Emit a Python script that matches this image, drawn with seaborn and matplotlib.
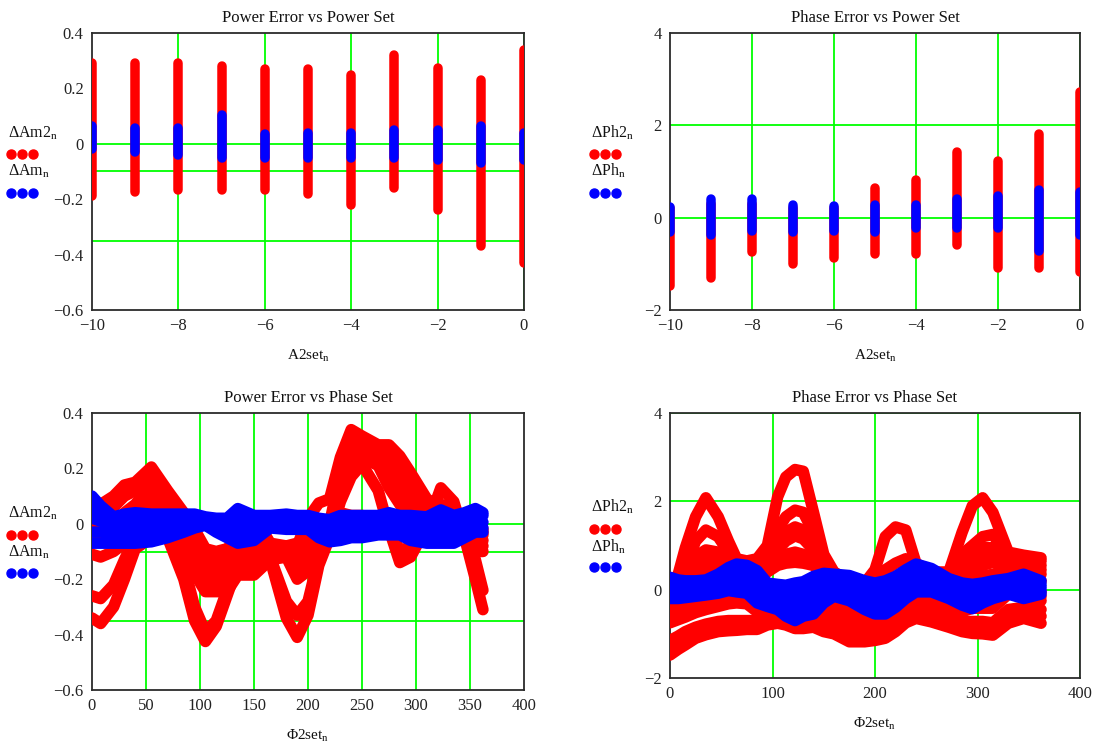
import matplotlib
matplotlib.use("Agg")
import matplotlib.pyplot as plt
from matplotlib.lines import Line2D
import pandas as pd
import seaborn as sns

# ---------- data: power-set columns ----------
power_levels = [-10, -9, -8, -7, -6, -5, -4, -3, -2, -1, 0]

am2_high = [.29, .29, .29, .28, .27, .27, .25, .32, .275, .23, .34]
am2_low = [-.19, -.175, -.165, -.165, -.165, -.18, -.22, -.16, -.24, -.37, -.43]
am_high = [.064, .057, .057, .105, .037, .04, .04, .05, .05, .065, .04]
am_low = [-.02, -.03, -.04, -.05, -.05, -.05, -.05, -.05, -.06, -.07, -.06]

ph2_high = [.2, .3, .3, .2, .2, .65, .82, 1.42, 1.22, 1.82, 2.72]
ph2_low = [-1.47, -1.31, -.75, -1.0, -.88, -.78, -.78, -.6, -1.09, -1.09, -1.18]
ph_high = [.23, .41, .41, .28, .26, .28, .28, .41, .48, .59, .55]
ph_low = [-.31, -.37, -.28, -.31, -.28, -.31, -.22, -.22, -.22, -.72, -.37]

# ---------- data: power error vs phase set ----------
phase_a = [0, 8, 20, 30, 40, 55, 70, 85, 95, 105, 115, 125, 135, 150, 165, 180, 190,
           200, 210, 220, 230, 240, 250, 265, 275, 285, 295, 310, 323, 335, 345, 355, 362]

am2_curves = {
    "A": [-.34, -.36, -.30, -.20, -.09, -.05, -.05, -.20, -.35, -.425, -.37, -.26, -.15, -.09, -.13, -.34, -.41,
          -.33, -.15, -.05, .08, .17, .215, .12, -.02, -.14, -.12, -.01, .13, .08, -.05, -.20, -.31],
    "B": [-.26, -.27, -.22, -.13, -.05, -.04, -.05, -.15, -.30, -.39, -.35, -.24, -.14, -.09, -.12, -.28, -.33,
          -.28, -.12, -.04, .09, .20, .24, .21, .13, .07, .03, .01, .07, .05, -.03, -.13, -.24],
    "H": [-.03, -.03, -.02, -.01, .0, .04, .0, -.03, -.05, -.12, -.13, -.12, -.07, -.07, -.08, -.08, -.07,
          -.05, -.02, .02, .04, .03, .03, .02, .0, -.10, -.08, .0, .07, .03, -.06, -.10, -.10],
    "C": [-.11, -.12, -.10, -.07, -.04, .07, .05, -.09, -.18, -.245, -.245, -.245, -.185, -.185, -.13, -.12, -.20,
          -.17, -.11, -.04, .09, .23, .26, .225, .16, .10, .06, .02, .05, .03, -.03, -.07, -.08],
    "D": [-.06, -.06, -.05, -.03, .01, .10, .08, -.07, -.14, -.21, -.22, -.21, -.16, -.16, -.10, -.10, -.16,
          -.14, -.09, -.03, .12, .26, .275, .24, .19, .14, .09, .03, .04, .02, -.02, -.05, -.06],
    "E": [-.03, -.02, .0, .04, .07, .14, .10, -.05, -.10, -.18, -.19, -.18, -.13, -.13, -.08, -.09, -.13,
          -.11, -.07, -.02, .15, .29, .29, .26, .22, .17, .12, .05, .03, .01, -.01, -.03, -.04],
    "F": [.0, .03, .06, .10, .12, .17, .11, -.04, -.07, -.15, -.16, -.15, -.10, -.10, -.08, -.08, -.10,
          -.08, -.05, .0, .19, .32, .305, .275, .25, .21, .15, .07, .02, .0, .0, -.02, -.03],
    "G": [.04, .07, .10, .14, .15, .205, .12, .04, -.02, -.09, -.10, -.09, -.05, .03, -.07, -.08, -.08,
          .02, .075, .09, .24, .34, .317, .285, .285, .245, .185, .09, .06, .03, .0, -.01, -.02],
}
am_curves = {
    "t": [.10, .065, .025, .035, .04, .035, .035, .035, .035, .025, .02, .02, .055, .03, .03, .035, .03,
          .03, .02, .015, .03, .03, .03, .03, .04, .03, .03, .025, .05, .03, .04, .055, .04],
    "u": [.06, .04, .015, .02, .02, .02, .02, .02, .02, .015, .01, .01, .02, .015, .015, .02, .015,
          .015, .01, .0, .01, .015, .015, .015, .02, .015, .015, .01, .02, .015, .02, .03, .03],
    "m": [.02, .01, -.01, -.01, -.01, -.01, -.005, .0, .0, .0, -.005, -.01, -.01, -.01, .0, .0, .0,
          .0, -.01, -.015, -.015, -.01, -.005, -.005, .0, -.005, -.01, -.015, -.015, -.015, -.01, .0, .005],
    "l": [-.03, -.03, -.035, -.04, -.04, -.035, -.03, -.015, -.01, -.005, -.02, -.03, -.04, -.03, -.01, -.005, -.005,
          -.005, -.03, -.04, -.04, -.03, -.025, -.02, -.02, -.02, -.03, -.04, -.04, -.04, -.03, -.02, -.015],
    "b": [-.07, -.07, -.07, -.07, -.07, -.065, -.05, -.03, -.015, -.005, -.03, -.05, -.07, -.06, -.015, -.02, -.02,
          -.02, -.05, -.065, -.06, -.05, -.05, -.04, -.04, -.04, -.06, -.07, -.07, -.07, -.05, -.03, -.03],
}

# ---------- data: phase error vs phase set ----------
phase_p = [0, 8, 15, 25, 35, 47, 57, 65, 75, 85, 95, 105, 113, 122, 130, 140, 150, 160, 175, 190, 200,
           210, 220, 230, 240, 255, 272, 285, 295, 305, 315, 330, 345, 362]

ph2_curves = {
    "R1": [.1, .35, .95, 1.65, 2.08, 1.65, 1.1, .7, .65, .7, 1.0, 2.1, 2.55, 2.72, 2.68, 1.75, .8, .4, .2, .15, .45,
           1.2, 1.42, 1.35, .6, .4, .4, 1.3, 1.9, 2.08, 1.75, .85, .78, .72],
    "R2": [.0, .2, .5, 1.1, 1.35, 1.2, .85, .6, .6, .65, .8, 1.35, 1.65, 1.8, 1.75, 1.3, .75, .3, .1, .1, .2,
           .45, .6, .7, .5, .35, .35, .8, 1.0, 1.2, 1.25, .75, .7, .65],
    "R3": [-.1, .1, .3, .75, .9, .85, .7, .55, .55, .6, .7, 1.05, 1.3, 1.42, 1.35, 1.05, .6, .2, .0, .0, .1,
           .25, .3, .3, .3, .25, .25, .55, .75, .95, .95, .65, .55, .55],
    "R3b": [-.15, .05, .2, .6, .75, .7, .6, .5, .5, .55, .6, .9, 1.1, 1.22, 1.15, .9, .5, .15, -.05, -.05, .05,
            .15, .2, .2, .2, .2, .2, .4, .6, .78, .78, .55, .45, .45],
    "R4": [-.2, .0, .1, .45, .6, .55, .45, .4, .4, .45, .5, .7, .8, .85, .8, .7, .4, .1, -.1, -.1, .0,
           .05, .1, .1, .1, .1, .1, .2, .4, .55, .62, .45, .35, .35],
    "R5": [-.25, -.05, .05, .3, .4, .35, .3, .3, .3, .35, .4, .55, .6, .62, .6, .55, .3, .05, -.1, -.1, -.05,
           .0, .05, .05, .05, .05, .05, .1, .2, .3, .35, .25, .2, .2],
    "L1": [-1.48, -1.35, -1.25, -1.1, -1.02, -.95, -.93, -.92, -.9, -.9, -.8, -.76, -.8, -.88, -.88, -.85, -.95, -1.0,
           -1.18, -1.18, -1.15, -1.1, -.95, -.75, -.65, -.73, -.85, -.95, -.99, -1.0, -1.03, -.76, -.65, -.76],
    "L1b": [-1.3, -1.2, -1.1, -.98, -.9, -.85, -.82, -.8, -.8, -.8, -.72, -.68, -.72, -.78, -.78, -.78, -.87, -.92,
            -1.09, -1.09, -1.05, -1.0, -.87, -.68, -.58, -.64, -.75, -.85, -.87, -.87, -.9, -.6, -.5, -.6],
    "L2": [-1.15, -1.05, -.95, -.85, -.78, -.72, -.7, -.7, -.7, -.7, -.65, -.6, -.65, -.7, -.7, -.7, -.8, -.85,
           -1.0, -1.0, -.95, -.9, -.8, -.6, -.5, -.55, -.65, -.72, -.72, -.72, -.75, -.45, -.4, -.45],
    "L3": [-.75, -.68, -.62, -.52, -.45, -.38, -.32, -.3, -.32, -.5, -.5, -.5, -.55, -.55, -.55, -.55, -.65, -.72,
           -.82, -.82, -.78, -.72, -.65, -.45, -.35, -.4, -.5, -.5, -.42, -.42, -.42, -.1, -.1, -.25],
    "L4": [-.55, -.5, -.45, -.35, -.28, -.22, -.18, -.15, -.18, -.25, -.35, -.35, -.4, -.4, -.4, -.4, -.5, -.55,
           -.65, -.65, -.6, -.55, -.5, -.3, -.2, -.25, -.35, -.38, -.3, -.3, -.28, -.05, -.02, -.15],
    "L5": [-.35, -.32, -.28, -.2, -.15, -.1, -.05, .0, -.05, -.1, -.2, -.2, -.25, -.25, -.25, -.25, -.35, -.38,
           -.48, -.48, -.45, -.4, -.35, -.15, -.1, -.1, -.2, -.25, -.2, -.2, -.15, .0, .05, -.05],
}
ph_curves = {
    "t": [.28, .22, .2, .2, .22, .35, .5, .58, .55, .43, .15, .12, .1, .15, .18, .3, .37, .35, .32, .2, .15,
          .2, .3, .45, .58, .48, .25, .15, .12, .15, .2, .25, .35, .2],
    "u": [.16, .12, .1, .11, .13, .24, .37, .42, .4, .25, .02, -.03, -.08, -.07, -.02, .08, .2, .22, .17, .03, -.03,
          .01, .12, .28, .42, .35, .14, .03, -.02, .04, .1, .16, .21, .12],
    "m": [.04, .01, .01, .03, .05, .13, .24, .27, .24, .07, -.12, -.17, -.25, -.28, -.21, -.13, .03, .1, .03, -.13, -.2,
          -.18, -.05, .12, .27, .22, .03, -.1, -.16, -.08, .0, .08, .08, .05],
    "l": [-.08, -.1, -.09, -.06, -.04, .02, .11, .11, .08, -.12, -.25, -.31, -.42, -.49, -.4, -.34, -.14, -.03, -.11, -.29, -.37,
          -.36, -.22, -.04, .11, .08, -.08, -.22, -.29, -.19, -.1, -.01, -.06, -.03],
    "b": [-.2, -.2, -.18, -.15, -.12, -.08, -.02, -.05, -.08, -.3, -.38, -.45, -.6, -.7, -.6, -.55, -.3, -.15, -.25, -.45, -.55,
          -.55, -.4, -.2, -.05, -.05, -.2, -.35, -.43, -.3, -.2, -.1, -.2, -.1],
}

# ---------- labels ----------
titles = ["Power Error vs Power Set", "Phase Error vs Power Set",
          "Power Error vs Phase Set", "Phase Error vs Phase Set"]
label_am2 = r"$\mathrm{\Delta Am2}_{\mathrm{n}}$"
label_am = r"$\mathrm{\Delta Am}_{\mathrm{n}}$"
label_ph2 = r"$\mathrm{\Delta Ph2}_{\mathrm{n}}$"
label_ph = r"$\mathrm{\Delta Ph}_{\mathrm{n}}$"
label_power = r"A2set$_{\mathrm{n}}$"
label_phase = "\u03a62set$_{\\mathrm{n}}$"

# ---------- style ----------
sns.set_theme(style="white")
plt.rcParams["font.family"] = ["Liberation Serif", "DejaVu Serif"]
plt.rcParams["mathtext.fontset"] = "custom"
plt.rcParams["mathtext.rm"] = "Liberation Serif"
plt.rcParams["mathtext.default"] = "rm"

W, H = 1098, 743
RED, BLUE, GREEN, INK = "#ff0000", "#0000ff", "#00ff00", "#2b2b2b"
COLUMN_LW = 9.5 * 72 / 100
CURVE_LW = 11.5 * 72 / 100
fig = plt.figure(figsize=(W / 100, H / 100), dpi=100, facecolor="white")


def make_axes(l, t, r, b):
    return fig.add_axes([l / W, 1 - b / H, (r - l) / W, (b - t) / H])


def columns_frame(levels, low, high):
    return pd.DataFrame({
        "x": [v for v in levels for _ in range(2)],
        "y": [v for pair in zip(low, high) for v in pair],
        "unit": [i for i in range(len(levels)) for _ in range(2)],
    })


def curves_frame(xs, curves):
    rows = [(x, y, name) for name, ys in curves.items() for x, y in zip(xs, ys)]
    return pd.DataFrame(rows, columns=["x", "y", "unit"])


def draw(ax, frame, color, lw):
    sns.lineplot(data=frame, x="x", y="y", units="unit", estimator=None, sort=False,
                 color=color, linewidth=lw, solid_capstyle="round",
                 solid_joinstyle="round", legend=False, ax=ax, zorder=3)


def finish(ax, title, xlabel, xlim, xticks, ylim, yticks, vlines, hlines):
    ax.set_xlim(*xlim)
    ax.set_ylim(*ylim)
    ax.set_xticks(xticks)
    ax.set_yticks(yticks)
    ax.tick_params(length=0, labelsize=12, labelcolor="#222222", pad=6)
    ax.grid(False)
    for v in vlines:
        ax.axvline(v, color=GREEN, lw=1.3, zorder=1)
    for v in hlines:
        ax.axhline(v, color=GREEN, lw=1.3, zorder=1)
    for s in ax.spines.values():
        s.set_color(INK)
        s.set_linewidth(1.3)
        s.set_visible(True)
    ax.set_title(title, fontsize=12, color="#111111", pad=8)
    ax.set_xlabel(xlabel, fontsize=11, color="#111111", labelpad=10)
    ax.set_ylabel("")


def key(x, y1, y2, y3, y4, t1, t2):
    fig.text((x + 3) / W, 1 - y1 / H, t1, fontsize=11.5, color="#111111", va="center", ha="left")
    fig.text((x + 3) / W, 1 - y3 / H, t2, fontsize=11.5, color="#111111", va="center", ha="left")
    xs = [(x + d) / W for d in (6, 17, 28)]
    for yy, c in ((y2, RED), (y4, BLUE)):
        fig.add_artist(Line2D(xs, [1 - yy / H] * 3, ls="", marker="o", ms=6.5,
                              color=c, transform=fig.transFigure))


ax1 = make_axes(92, 33, 524, 310)
draw(ax1, columns_frame(power_levels, am2_low, am2_high), RED, COLUMN_LW)
draw(ax1, columns_frame(power_levels, am_low, am_high), BLUE, COLUMN_LW)
finish(ax1, titles[0], label_power, (-10, 0), list(range(-10, 1, 2)), (-.6, .4),
       [-.6, -.4, -.2, 0, .2, .4], [-8, -6, -4, -2, 0], [0, -.1, -.35])
ax1.set_yticklabels(["\u22120.6", "\u22120.4", "\u22120.2", "0", "0.2", "0.4"])

ax2 = make_axes(670, 33, 1080, 310)
draw(ax2, columns_frame(power_levels, ph2_low, ph2_high), RED, COLUMN_LW)
draw(ax2, columns_frame(power_levels, ph_low, ph_high), BLUE, COLUMN_LW)
finish(ax2, titles[1], label_power, (-10, 0), list(range(-10, 1, 2)), (-2, 4),
       [-2, 0, 2, 4], [-8, -6, -4, -2, 0], [0, 2])

ax3 = make_axes(92, 413, 524, 690)
draw(ax3, curves_frame(phase_a, am2_curves), RED, CURVE_LW)
draw(ax3, curves_frame(phase_a, am_curves), BLUE, CURVE_LW)
finish(ax3, titles[2], label_phase, (0, 400), list(range(0, 401, 50)), (-.6, .4),
       [-.6, -.4, -.2, 0, .2, .4], list(range(50, 351, 50)), [0, -.1, -.35])
ax3.set_yticklabels(["\u22120.6", "\u22120.4", "\u22120.2", "0", "0.2", "0.4"])

ax4 = make_axes(670, 413, 1080, 678)
draw(ax4, curves_frame(phase_p, ph2_curves), RED, CURVE_LW)
draw(ax4, curves_frame(phase_p, ph_curves), BLUE, CURVE_LW)
finish(ax4, titles[3], label_phase, (0, 400), list(range(0, 401, 100)), (-2, 4),
       [-2, 0, 2, 4], [100, 200, 300, 400], [0, 2, 4])

key(5, 133, 154, 171, 193, label_am2, label_am)
key(5, 513, 535, 552, 573, label_am2, label_am)
key(588, 133, 154, 171, 193, label_ph2, label_ph)
key(588, 507, 529, 547, 567, label_ph2, label_ph)

fig.savefig("out.png", dpi=100, facecolor="white")
